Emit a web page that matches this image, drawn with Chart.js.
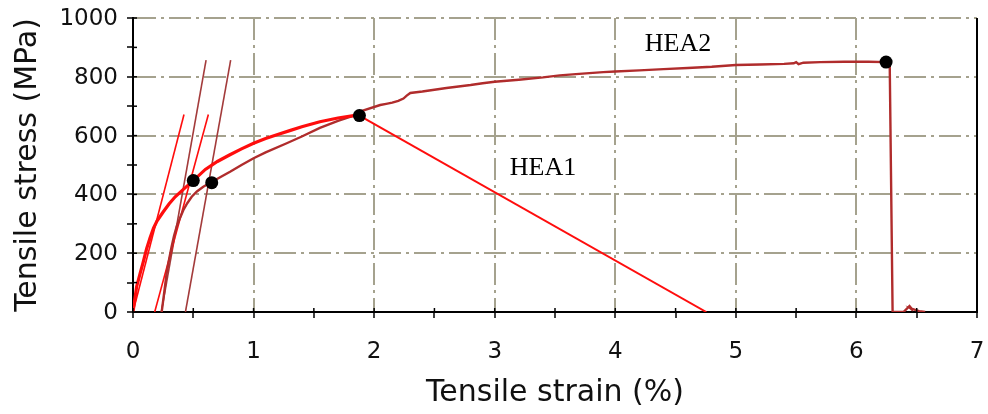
<!DOCTYPE html>
<html>
<head>
<meta charset="utf-8">
<script src="https://cdn.jsdelivr.net/npm/chart.js@4.4.1/dist/chart.umd.min.js"></script>
<style>
html,body{margin:0;padding:0;background:#ffffff;}
#wrap{width:988px;height:414px;position:relative;}
</style>
</head>
<body>
<div id="wrap"><canvas id="c" width="988" height="414"></canvas></div>
<script>
// ---- data (strain in %, stress in MPa) ----
const hea1Strain = [0, 0.03, 0.058, 0.085, 0.113, 0.141, 0.17, 0.2, 0.25, 0.3, 0.35, 0.42, 0.5, 0.6, 0.7, 0.8, 0.9, 1.0, 1.1, 1.2, 1.3, 1.4, 1.55, 1.7, 1.83, 1.878];
const hea1Stress = [0, 86, 130, 170, 215, 252, 285, 310, 340, 368, 392, 418, 447, 485, 512, 534, 555, 574, 590, 604, 617, 630, 647, 660, 668, 670];

const hea1TailStrain = [1.878, 4.755];
const hea1TailStress = [668, 0];

const hea2Strain = [0.238, 0.26, 0.279, 0.3, 0.32, 0.34, 0.362, 0.39, 0.418, 0.45, 0.487, 0.53, 0.583, 0.653, 0.73, 0.805, 0.9, 1.0, 1.1, 1.275, 1.4, 1.55, 1.7, 1.83, 1.9, 2.05, 2.1, 2.15, 2.2, 2.243, 2.27, 2.3, 2.4, 2.5, 2.6, 2.7, 2.8, 2.9, 3.0, 3.2, 3.4, 3.54, 3.7, 3.9, 4.0, 4.2, 4.4, 4.6, 4.8, 5.0, 5.2, 5.4, 5.48, 5.5, 5.52, 5.56, 5.7, 5.9, 6.1, 6.246, 6.276, 6.30, 6.39, 6.44, 6.47, 6.45, 6.52, 6.57];
const hea2Stress = [0, 70, 132, 180, 222, 258, 290, 320, 347, 370, 392, 410, 426, 442, 460, 477, 500, 523, 543, 574, 597, 626, 650, 668, 684, 704, 708, 712, 718, 726, 736, 745, 750, 756, 762, 767, 772, 778, 783, 790, 798, 805, 810, 816, 818, 822, 826, 830, 834, 840, 842, 844, 846, 850, 843, 848, 850, 851, 851, 850, 848, 0, 0, 20, 5, 12, 3, 0];

const lineAStrain = [0, 0.423];
const lineAStress = [0, 672];
const lineBStrain = [0.18, 0.625];
const lineBStress = [0, 672];
const lineCStrain = [0.235, 0.606];
const lineCStress = [0, 857];
const lineDStrain = [0.435, 0.81];
const lineDStress = [0, 857];

const markStrain = [0.5, 0.653, 1.878, 6.246];
const markStress = [447, 440, 668, 850];

const xTickLabels = ['0', '1', '2', '3', '4', '5', '6', '7'];
const yTickLabels = ['0', '200', '400', '600', '800', '1000'];

const seriesNames = ['HEA1', 'HEA2'];
const seriesLabelStrain = [3.40, 4.52];
const seriesLabelStress = [466, 889];

// ---- helpers ----
const pts = (xs, ys) => xs.map((v, i) => ({x: v, y: ys[i]}));

const GRID = '#a5a28e';
const RED = '#ff0d0d';
const DARK = '#b02c2c';
const DARK2 = '#a33b3b';

const decor = {
  id: 'decor',
  afterDraw(chart) {
    const {ctx, chartArea: a, scales: {x, y}} = chart;
    ctx.save();
    ctx.strokeStyle = '#000';
    ctx.lineWidth = 1.5;
    x.ticks.forEach(t => {
      const px = x.getPixelForValue(t.value);
      ctx.beginPath(); ctx.moveTo(px, a.bottom); ctx.lineTo(px, a.bottom - 4); ctx.stroke();
    });
    y.ticks.forEach(t => {
      const py = y.getPixelForValue(t.value);
      ctx.beginPath(); ctx.moveTo(a.left, py); ctx.lineTo(a.left + 4, py); ctx.stroke();
    });
    ctx.lineWidth = 2;
    ctx.beginPath(); ctx.moveTo(a.right, a.top); ctx.lineTo(a.right, a.bottom + 1); ctx.stroke();
    ctx.fillStyle = '#000';
    ctx.font = '26px "Liberation Serif", "Times New Roman", serif';
    ctx.textAlign = 'center';
    ctx.textBaseline = 'alphabetic';
    seriesNames.forEach((n, i) => {
      ctx.fillText(n, x.getPixelForValue(seriesLabelStrain[i]), y.getPixelForValue(seriesLabelStress[i]));
    });
    ctx.restore();
  }
};

const tickFont = {family: '"DejaVu Sans", Verdana, sans-serif', size: 23};
const titleFont = {family: '"DejaVu Sans", Verdana, sans-serif', size: 30};

new Chart(document.getElementById('c'), {
  type: 'scatter',
  data: {
    datasets: [
      {label: 'points', data: pts(markStrain, markStress), showLine: false, pointRadius: 6.5, pointBackgroundColor: '#000', pointBorderColor: '#000', pointBorderWidth: 0},
      {label: 'HEA1', data: pts(hea1Strain, hea1Stress), showLine: true, borderColor: RED, borderWidth: 3.2, pointRadius: 0, tension: 0},
      {label: 'HEA1 tail', data: pts(hea1TailStrain, hea1TailStress), showLine: true, borderColor: RED, borderWidth: 2, pointRadius: 0},
      {label: 'HEA2', data: pts(hea2Strain, hea2Stress), showLine: true, borderColor: DARK, borderWidth: 2.4, pointRadius: 0, tension: 0},
      {label: 'A', data: pts(lineAStrain, lineAStress), showLine: true, borderColor: RED, borderWidth: 1.6, pointRadius: 0},
      {label: 'B', data: pts(lineBStrain, lineBStress), showLine: true, borderColor: RED, borderWidth: 1.6, pointRadius: 0},
      {label: 'C', data: pts(lineCStrain, lineCStress), showLine: true, borderColor: DARK2, borderWidth: 1.6, pointRadius: 0},
      {label: 'D', data: pts(lineDStrain, lineDStress), showLine: true, borderColor: DARK2, borderWidth: 1.6, pointRadius: 0}
    ]
  },
  options: {
    responsive: false,
    animation: false,
    devicePixelRatio: 1,
    layout: {padding: {top: 18, right: 11, left: 0, bottom: 0}},
    plugins: {legend: {display: false}, tooltip: {enabled: false}},
    scales: {
      x: {
        type: 'linear', min: 0, max: 7,
        afterFit: s => { s.height = 102; s.paddingLeft = 0; s.paddingRight = 0; },
        ticks: {
          stepSize: 0.5, autoSkip: false, maxRotation: 0, padding: 20,
          color: '#111', font: tickFont,
          callback: v => { const i = xTickLabels.indexOf(String(v)); return i >= 0 ? xTickLabels[i] : ''; }
        },
        grid: {
          color: c => (c.tick && Number.isInteger(c.tick.value)) ? GRID : 'rgba(0,0,0,0)',
          lineWidth: 2, tickColor: '#000', tickLength: 6, tickWidth: 1.5, drawTicks: true
        },
        border: {display: true, color: '#000', width: 2, dash: [22, 5, 3, 5]},
        title: {display: true, text: 'Tensile strain (%)', color: '#111', font: titleFont, padding: {top: 0, bottom: 3}}
      },
      y: {
        type: 'linear', min: 0, max: 1000,
        afterFit: s => { s.width = 133; s.paddingTop = 0; s.paddingBottom = 0; },
        ticks: {
          stepSize: 100, autoSkip: false, padding: 9, labelOffset: 1,
          color: '#111', font: tickFont,
          callback: v => { const i = yTickLabels.indexOf(String(v)); return i >= 0 ? yTickLabels[i] : ''; }
        },
        grid: {
          color: c => (c.tick && c.tick.value % 200 === 0) ? GRID : 'rgba(0,0,0,0)',
          lineWidth: 2, tickColor: '#000', tickLength: 6, tickWidth: 1.5, drawTicks: true
        },
        border: {display: true, color: '#000', width: 2, dash: [22, 5, 3, 5]},
        title: {display: true, text: 'Tensile stress (MPa)', color: '#111', font: titleFont, padding: {top: 10, bottom: 0}}
      }
    }
  },
  plugins: [decor]
});
</script>
</body>
</html>
